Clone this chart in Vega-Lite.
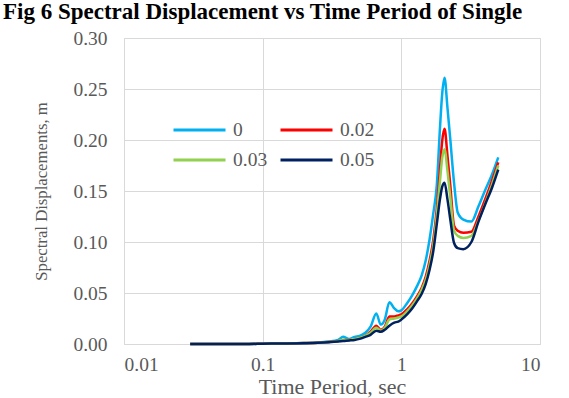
{
  "$schema": "https://vega.github.io/schema/vega-lite/v6.json",
  "width": 416,
  "height": 306,
  "autosize": {"type": "none"},
  "padding": {"left": 124, "top": 38, "right": 29, "bottom": 54},
  "background": "white",
  "title": {
    "text": "Fig 6 Spectral Displacement vs Time Period of  Single",
    "font": "Liberation Serif",
    "fontSize": 23,
    "fontWeight": "bold",
    "color": "#000000",
    "anchor": "start",
    "frame": "group",
    "baseline": "top",
    "dx": -121,
    "dy": -4,
    "offset": 0
  },
  "data": {
    "values": [
      {"T": 0.03, "s": "0", "v": 0},
      {"T": 0.05, "s": "0", "v": 0},
      {"T": 0.08, "s": "0", "v": 0},
      {"T": 0.1, "s": "0", "v": 0.0003},
      {"T": 0.15, "s": "0", "v": 0.0006},
      {"T": 0.2, "s": "0", "v": 0.001},
      {"T": 0.25, "s": "0", "v": 0.0015},
      {"T": 0.3, "s": "0", "v": 0.0025},
      {"T": 0.35, "s": "0", "v": 0.004},
      {"T": 0.38, "s": "0", "v": 0.007},
      {"T": 0.42, "s": "0", "v": 0.005},
      {"T": 0.46, "s": "0", "v": 0.007},
      {"T": 0.5, "s": "0", "v": 0.008},
      {"T": 0.55, "s": "0", "v": 0.011},
      {"T": 0.6, "s": "0", "v": 0.017},
      {"T": 0.66, "s": "0", "v": 0.03},
      {"T": 0.71, "s": "0", "v": 0.019},
      {"T": 0.76, "s": "0", "v": 0.024},
      {"T": 0.82, "s": "0", "v": 0.041},
      {"T": 0.89, "s": "0", "v": 0.035},
      {"T": 0.95, "s": "0", "v": 0.032},
      {"T": 1.0, "s": "0", "v": 0.033},
      {"T": 1.1, "s": "0", "v": 0.04},
      {"T": 1.2, "s": "0", "v": 0.048},
      {"T": 1.3, "s": "0", "v": 0.057},
      {"T": 1.4, "s": "0", "v": 0.067},
      {"T": 1.5, "s": "0", "v": 0.082},
      {"T": 1.6, "s": "0", "v": 0.103},
      {"T": 1.7, "s": "0", "v": 0.128},
      {"T": 1.8, "s": "0", "v": 0.155},
      {"T": 1.9, "s": "0", "v": 0.212},
      {"T": 1.97, "s": "0", "v": 0.245},
      {"T": 2.05, "s": "0", "v": 0.261},
      {"T": 2.15, "s": "0", "v": 0.232},
      {"T": 2.25, "s": "0", "v": 0.202},
      {"T": 2.4, "s": "0", "v": 0.158},
      {"T": 2.55, "s": "0", "v": 0.129},
      {"T": 2.8, "s": "0", "v": 0.122},
      {"T": 3.2, "s": "0", "v": 0.12},
      {"T": 3.6, "s": "0", "v": 0.135},
      {"T": 4.0, "s": "0", "v": 0.15},
      {"T": 4.5, "s": "0", "v": 0.166},
      {"T": 5.0, "s": "0", "v": 0.183},

      {"T": 0.03, "s": "0.02", "v": 0},
      {"T": 0.05, "s": "0.02", "v": 0},
      {"T": 0.08, "s": "0.02", "v": 0},
      {"T": 0.1, "s": "0.02", "v": 0.0003},
      {"T": 0.15, "s": "0.02", "v": 0.0005},
      {"T": 0.2, "s": "0.02", "v": 0.0009},
      {"T": 0.25, "s": "0.02", "v": 0.0013},
      {"T": 0.3, "s": "0.02", "v": 0.002},
      {"T": 0.35, "s": "0.02", "v": 0.003},
      {"T": 0.38, "s": "0.02", "v": 0.004},
      {"T": 0.42, "s": "0.02", "v": 0.004},
      {"T": 0.46, "s": "0.02", "v": 0.005},
      {"T": 0.5, "s": "0.02", "v": 0.006},
      {"T": 0.55, "s": "0.02", "v": 0.008},
      {"T": 0.6, "s": "0.02", "v": 0.012},
      {"T": 0.66, "s": "0.02", "v": 0.018},
      {"T": 0.71, "s": "0.02", "v": 0.014},
      {"T": 0.76, "s": "0.02", "v": 0.017},
      {"T": 0.82, "s": "0.02", "v": 0.027},
      {"T": 0.89, "s": "0.02", "v": 0.027},
      {"T": 0.95, "s": "0.02", "v": 0.028},
      {"T": 1.0, "s": "0.02", "v": 0.029},
      {"T": 1.1, "s": "0.02", "v": 0.034},
      {"T": 1.2, "s": "0.02", "v": 0.04},
      {"T": 1.3, "s": "0.02", "v": 0.047},
      {"T": 1.4, "s": "0.02", "v": 0.055},
      {"T": 1.5, "s": "0.02", "v": 0.066},
      {"T": 1.6, "s": "0.02", "v": 0.082},
      {"T": 1.7, "s": "0.02", "v": 0.102},
      {"T": 1.8, "s": "0.02", "v": 0.132},
      {"T": 1.9, "s": "0.02", "v": 0.172},
      {"T": 1.97, "s": "0.02", "v": 0.199},
      {"T": 2.05, "s": "0.02", "v": 0.211},
      {"T": 2.15, "s": "0.02", "v": 0.185},
      {"T": 2.25, "s": "0.02", "v": 0.157},
      {"T": 2.4, "s": "0.02", "v": 0.116},
      {"T": 2.55, "s": "0.02", "v": 0.111},
      {"T": 2.8, "s": "0.02", "v": 0.109},
      {"T": 3.2, "s": "0.02", "v": 0.11},
      {"T": 3.6, "s": "0.02", "v": 0.125},
      {"T": 4.0, "s": "0.02", "v": 0.141},
      {"T": 4.5, "s": "0.02", "v": 0.16},
      {"T": 5.0, "s": "0.02", "v": 0.178},

      {"T": 0.03, "s": "0.03", "v": 0},
      {"T": 0.05, "s": "0.03", "v": 0},
      {"T": 0.08, "s": "0.03", "v": 0},
      {"T": 0.1, "s": "0.03", "v": 0.0003},
      {"T": 0.15, "s": "0.03", "v": 0.0005},
      {"T": 0.2, "s": "0.03", "v": 0.0009},
      {"T": 0.25, "s": "0.03", "v": 0.0012},
      {"T": 0.3, "s": "0.03", "v": 0.002},
      {"T": 0.35, "s": "0.03", "v": 0.003},
      {"T": 0.38, "s": "0.03", "v": 0.004},
      {"T": 0.42, "s": "0.03", "v": 0.004},
      {"T": 0.46, "s": "0.03", "v": 0.005},
      {"T": 0.5, "s": "0.03", "v": 0.006},
      {"T": 0.55, "s": "0.03", "v": 0.008},
      {"T": 0.6, "s": "0.03", "v": 0.011},
      {"T": 0.66, "s": "0.03", "v": 0.016},
      {"T": 0.71, "s": "0.03", "v": 0.013},
      {"T": 0.76, "s": "0.03", "v": 0.016},
      {"T": 0.82, "s": "0.03", "v": 0.024},
      {"T": 0.89, "s": "0.03", "v": 0.025},
      {"T": 0.95, "s": "0.03", "v": 0.026},
      {"T": 1.0, "s": "0.03", "v": 0.027},
      {"T": 1.1, "s": "0.03", "v": 0.032},
      {"T": 1.2, "s": "0.03", "v": 0.038},
      {"T": 1.3, "s": "0.03", "v": 0.045},
      {"T": 1.4, "s": "0.03", "v": 0.053},
      {"T": 1.5, "s": "0.03", "v": 0.063},
      {"T": 1.6, "s": "0.03", "v": 0.078},
      {"T": 1.7, "s": "0.03", "v": 0.097},
      {"T": 1.8, "s": "0.03", "v": 0.125},
      {"T": 1.9, "s": "0.03", "v": 0.16},
      {"T": 1.97, "s": "0.03", "v": 0.182},
      {"T": 2.05, "s": "0.03", "v": 0.191},
      {"T": 2.15, "s": "0.03", "v": 0.17},
      {"T": 2.25, "s": "0.03", "v": 0.145},
      {"T": 2.4, "s": "0.03", "v": 0.111},
      {"T": 2.55, "s": "0.03", "v": 0.106},
      {"T": 2.8, "s": "0.03", "v": 0.104},
      {"T": 3.2, "s": "0.03", "v": 0.106},
      {"T": 3.6, "s": "0.03", "v": 0.121},
      {"T": 4.0, "s": "0.03", "v": 0.137},
      {"T": 4.5, "s": "0.03", "v": 0.156},
      {"T": 5.0, "s": "0.03", "v": 0.175},

      {"T": 0.03, "s": "0.05", "v": 0},
      {"T": 0.05, "s": "0.05", "v": 0},
      {"T": 0.08, "s": "0.05", "v": 0},
      {"T": 0.1, "s": "0.05", "v": 0.0003},
      {"T": 0.15, "s": "0.05", "v": 0.0005},
      {"T": 0.2, "s": "0.05", "v": 0.0008},
      {"T": 0.25, "s": "0.05", "v": 0.0012},
      {"T": 0.3, "s": "0.05", "v": 0.0018},
      {"T": 0.35, "s": "0.05", "v": 0.0025},
      {"T": 0.38, "s": "0.05", "v": 0.003},
      {"T": 0.42, "s": "0.05", "v": 0.0035},
      {"T": 0.46, "s": "0.05", "v": 0.004},
      {"T": 0.5, "s": "0.05", "v": 0.005},
      {"T": 0.55, "s": "0.05", "v": 0.007},
      {"T": 0.6, "s": "0.05", "v": 0.009},
      {"T": 0.66, "s": "0.05", "v": 0.013},
      {"T": 0.71, "s": "0.05", "v": 0.012},
      {"T": 0.76, "s": "0.05", "v": 0.014},
      {"T": 0.82, "s": "0.05", "v": 0.018},
      {"T": 0.89, "s": "0.05", "v": 0.021},
      {"T": 0.95, "s": "0.05", "v": 0.022},
      {"T": 1.0, "s": "0.05", "v": 0.024},
      {"T": 1.1, "s": "0.05", "v": 0.029},
      {"T": 1.2, "s": "0.05", "v": 0.035},
      {"T": 1.3, "s": "0.05", "v": 0.042},
      {"T": 1.4, "s": "0.05", "v": 0.049},
      {"T": 1.5, "s": "0.05", "v": 0.059},
      {"T": 1.6, "s": "0.05", "v": 0.073},
      {"T": 1.7, "s": "0.05", "v": 0.091},
      {"T": 1.8, "s": "0.05", "v": 0.117},
      {"T": 1.9, "s": "0.05", "v": 0.142},
      {"T": 1.97, "s": "0.05", "v": 0.154},
      {"T": 2.05, "s": "0.05", "v": 0.158},
      {"T": 2.15, "s": "0.05", "v": 0.142},
      {"T": 2.25, "s": "0.05", "v": 0.123},
      {"T": 2.4, "s": "0.05", "v": 0.099},
      {"T": 2.55, "s": "0.05", "v": 0.094},
      {"T": 2.8, "s": "0.05", "v": 0.093},
      {"T": 3.2, "s": "0.05", "v": 0.1},
      {"T": 3.6, "s": "0.05", "v": 0.12},
      {"T": 4.0, "s": "0.05", "v": 0.136},
      {"T": 4.5, "s": "0.05", "v": 0.153},
      {"T": 5.0, "s": "0.05", "v": 0.171}
    ]
  },
  "mark": {"type": "line", "interpolate": "monotone", "strokeWidth": 2.5},
  "encoding": {
    "x": {
      "field": "T",
      "type": "quantitative",
      "scale": {"type": "log", "domain": [0.01, 10]},
      "axis": {
        "values": [0.01, 0.1, 1, 10],
        "format": "~g",
        "title": "Time Period, sec",
        "labelPadding": 11,
        "titlePadding": 3,
        "titleFontSize": 22
      }
    },
    "y": {
      "field": "v",
      "type": "quantitative",
      "scale": {"domain": [0, 0.3]},
      "axis": {
        "values": [0, 0.05, 0.1, 0.15, 0.2, 0.25, 0.3],
        "format": ".2f",
        "title": "Spectral Displacements, m",
        "labelPadding": 17,
        "titlePadding": 22,
        "titleFontSize": 16.7
      }
    },
    "color": {
      "field": "s",
      "type": "nominal",
      "scale": {
        "domain": ["0", "0.02", "0.03", "0.05"],
        "range": ["#00B0F0", "#FF0000", "#92D050", "#002060"]
      },
      "legend": {
        "orient": "none",
        "legendX": 48,
        "legendY": 82,
        "direction": "horizontal",
        "columns": 2,
        "title": null,
        "symbolType": "stroke",
        "symbolSize": 2704,
        "symbolStrokeWidth": 3,
        "clipHeight": 20,
        "labelFont": "Liberation Serif",
        "labelFontSize": 19.5,
        "labelColor": "#595959",
        "labelOffset": 6,
        "columnPadding": 11,
        "rowPadding": 10
      }
    }
  },
  "config": {
    "view": {"stroke": "#D9D9D9", "strokeWidth": 1},
    "legend": {"labelFont": "Liberation Serif", "labelColor": "#595959"},
    "axis": {
      "domain": false,
      "ticks": false,
      "grid": true,
      "gridColor": "#D9D9D9",
      "gridWidth": 1,
      "labelFont": "Liberation Serif",
      "labelFontSize": 19.5,
      "labelColor": "#595959",
      "titleFont": "Liberation Serif",
      "titleFontWeight": "normal",
      "titleColor": "#595959"
    }
  }
}
